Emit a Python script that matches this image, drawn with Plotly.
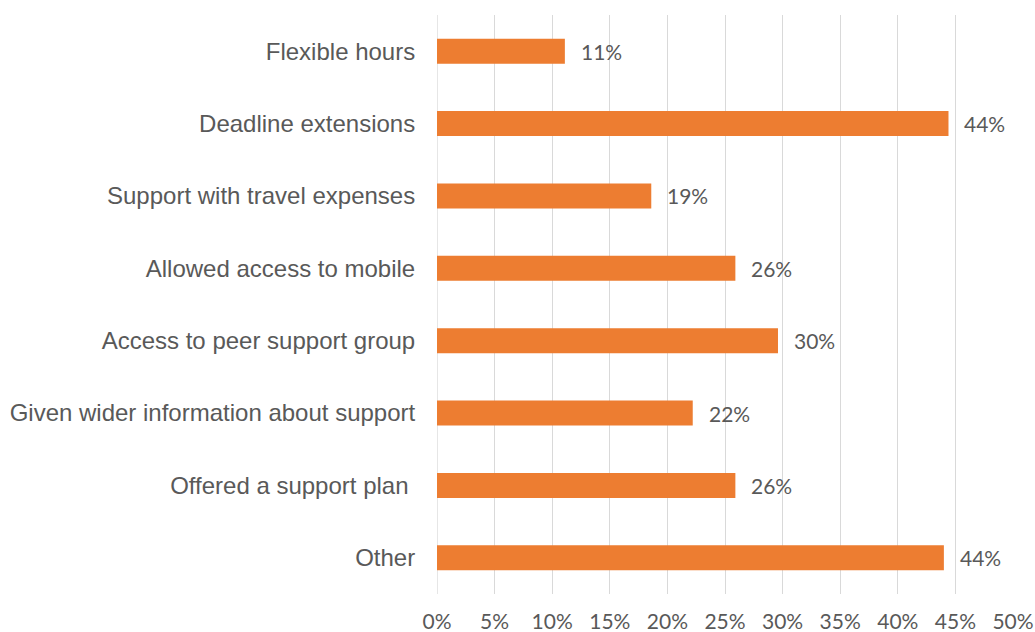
import plotly.graph_objects as go

# Survey responses: share of respondents offered each kind of support
categories = [
    "Flexible hours",
    "Deadline extensions",
    "Support with travel expenses",
    "Allowed access to mobile",
    "Access to peer support group",
    "Given wider information about support",
    "Offered a support plan\u00a0",
    "Other",
]
shares = [0.111, 0.444, 0.186, 0.259, 0.296, 0.222, 0.259, 0.440]
tick_values = [0, 0.05, 0.10, 0.15, 0.20, 0.25, 0.30, 0.35, 0.40, 0.45, 0.50]
tick_labels = ["0%", "5%", "10%", "15%", "20%", "25%", "30%", "35%", "40%", "45%", "50%"]

BAR_COLOR = "#ED7D31"
TEXT_COLOR = "#595959"
GRID_COLOR = "#D9D9D9"
LABEL_FONT = "Lato, Open Sans, sans-serif"

fig = go.Figure(
    go.Bar(
        x=shares,
        y=categories,
        orientation="h",
        marker=dict(color=BAR_COLOR, line=dict(width=0)),
        hoverinfo="skip",
    )
)

# Value labels just past the end of each bar
for cat, v in zip(categories, shares):
    fig.add_annotation(
        x=v,
        y=cat,
        text=f"{v:.0%}",
        showarrow=False,
        xanchor="left",
        yanchor="middle",
        xshift=14,
        font=dict(family=LABEL_FONT, size=21, color=TEXT_COLOR),
    )

fig.update_layout(
    width=1035,
    height=632,
    margin=dict(l=437, r=22, t=15, b=38),
    paper_bgcolor="white",
    plot_bgcolor="white",
    bargap=0.655,
    showlegend=False,
    xaxis=dict(
        range=[0, 0.5],
        tickvals=tick_values,
        ticktext=tick_labels,
        showgrid=True,
        gridcolor=GRID_COLOR,
        gridwidth=1.3,
        zeroline=False,
        showline=False,
        ticks="outside",
        ticklen=9,
        tickcolor="rgba(0,0,0,0)",
        tickfont=dict(family=LABEL_FONT, size=21, color=TEXT_COLOR),
        automargin=False,
        fixedrange=True,
    ),
    yaxis=dict(
        categoryorder="array",
        categoryarray=categories,
        autorange="reversed",
        showgrid=False,
        zeroline=False,
        showline=False,
        ticks="outside",
        ticklen=16,
        tickcolor="rgba(0,0,0,0)",
        tickfont=dict(family="Liberation Sans, Arial, sans-serif", size=24, color=TEXT_COLOR),
        automargin=False,
        fixedrange=True,
    ),
)

# Gridline at 0% drawn explicitly so the left edge matches the other lines
fig.add_shape(
    type="line", xref="x", yref="paper", x0=0, x1=0, y0=0, y1=1,
    line=dict(color=GRID_COLOR, width=1.3), layer="below",
)

fig.write_html("out.html")
